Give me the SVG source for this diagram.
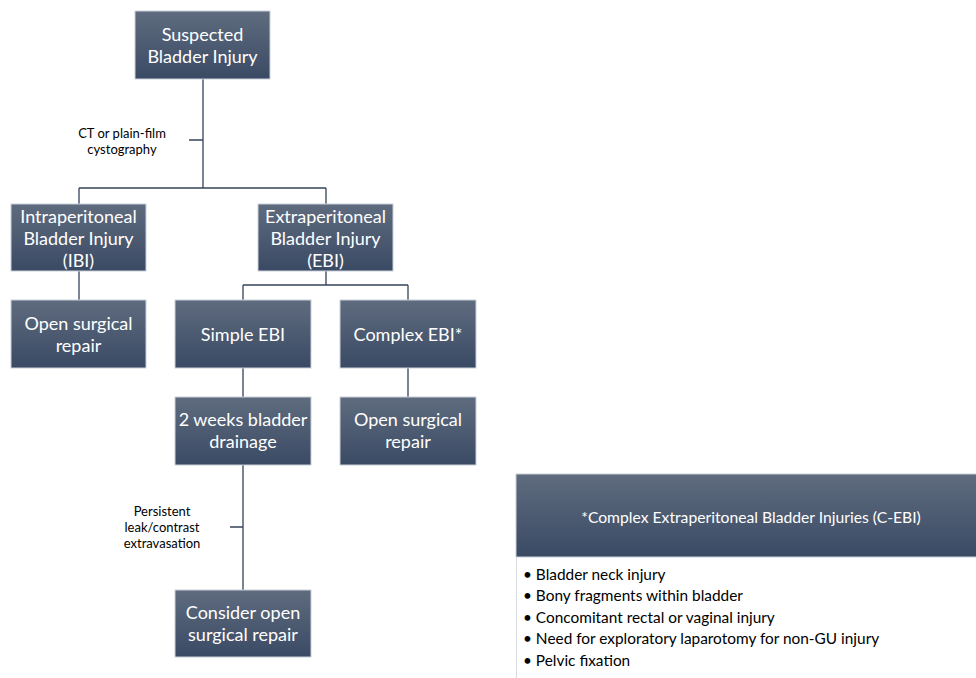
<svg xmlns="http://www.w3.org/2000/svg" width="976" height="678" viewBox="0 0 976 678">
<defs>
<linearGradient id="g" x1="0" y1="0" x2="0" y2="1">
<stop offset="0" stop-color="#5f6c7f"/>
<stop offset="1" stop-color="#3a4a64"/>
</linearGradient>
<style>
.box{fill:url(#g);stroke:#c9d0da;stroke-width:1}
.t{font-family:Lato,"Open Sans",sans-serif;font-size:18px;fill:#ffffff;text-anchor:middle}
.lbl{font-family:Lato,"Open Sans",sans-serif;font-size:13px;fill:#000000;text-anchor:middle}
.li{font-family:Lato,"Open Sans",sans-serif;font-size:15.4px;fill:#000000}
.c{stroke:#34435a;stroke-width:1.3;fill:none}
</style>
</defs>
<rect width="976" height="678" fill="#ffffff"/>
<g id="connectors">
<path class="c" d="M203 79V188M189 140H203M79 188H326M79 188V204M326 188V204"/>
<path class="c" d="M79 271V300"/>
<path class="c" d="M326 271V285M243 285H408M243 285V300M408 285V300"/>
<path class="c" d="M243 368V397M408 368V397"/>
<path class="c" d="M243 465V590M230 527H243"/>
</g>
<g id="n-suspected"><rect class="box" x="135" y="11" width="135" height="68"/><text class="t" x="202.5" y="41">Suspected</text><text class="t" x="202.5" y="63">Bladder Injury</text></g>
<g id="n-ibi"><rect class="box" x="11" y="204" width="135" height="67"/><text class="t" x="78.5" y="223">Intraperitoneal</text><text class="t" x="78.5" y="245">Bladder Injury</text><text class="t" x="78.5" y="267">(IBI)</text></g>
<g id="n-ebi"><rect class="box" x="258" y="204" width="135" height="67"/><text class="t" x="325.5" y="223">Extraperitoneal</text><text class="t" x="325.5" y="245">Bladder Injury</text><text class="t" x="325.5" y="267">(EBI)</text></g>
<g id="n-open-left"><rect class="box" x="11" y="300" width="135" height="68"/><text class="t" x="78.5" y="330">Open surgical</text><text class="t" x="78.5" y="352">repair</text></g>
<g id="n-simple"><rect class="box" x="175" y="300" width="136" height="68"/><text class="t" x="243" y="341">Simple EBI</text></g>
<g id="n-complex"><rect class="box" x="340" y="300" width="136" height="68"/><text class="t" x="408" y="341">Complex EBI*</text></g>
<g id="n-drainage"><rect class="box" x="175" y="397" width="136" height="68"/><text class="t" x="243" y="426">2 weeks bladder</text><text class="t" x="243" y="448">drainage</text></g>
<g id="n-open-right"><rect class="box" x="340" y="397" width="136" height="68"/><text class="t" x="408" y="426">Open surgical</text><text class="t" x="408" y="448">repair</text></g>
<g id="n-consider"><rect class="box" x="175" y="590" width="136" height="67"/><text class="t" x="243" y="619">Consider open</text><text class="t" x="243" y="641">surgical repair</text></g>
<g id="labels">
<text class="lbl" x="122" y="138">CT or plain-film</text>
<text class="lbl" x="122" y="154">cystography</text>
<text class="lbl" x="162" y="516">Persistent</text>
<text class="lbl" x="162" y="532">leak/contrast</text>
<text class="lbl" x="162" y="548">extravasation</text>
</g>
<g id="legend">
<rect class="box" x="516" y="474" width="470" height="83"/>
<text class="t" x="751" y="523" style="font-size:15.7px">*Complex Extraperitoneal Bladder Injuries (C-EBI)</text>
<path d="M516.5 557V678" stroke="#d6dbe2" stroke-width="1"/>
<text class="li" x="523" y="580">• Bladder neck injury</text>
<text class="li" x="523" y="601">• Bony fragments within bladder</text>
<text class="li" x="523" y="623">• Concomitant rectal or vaginal injury</text>
<text class="li" x="523" y="644">• Need for exploratory laparotomy for non-GU injury</text>
<text class="li" x="523" y="666">• Pelvic fixation</text>
</g>
</svg>
